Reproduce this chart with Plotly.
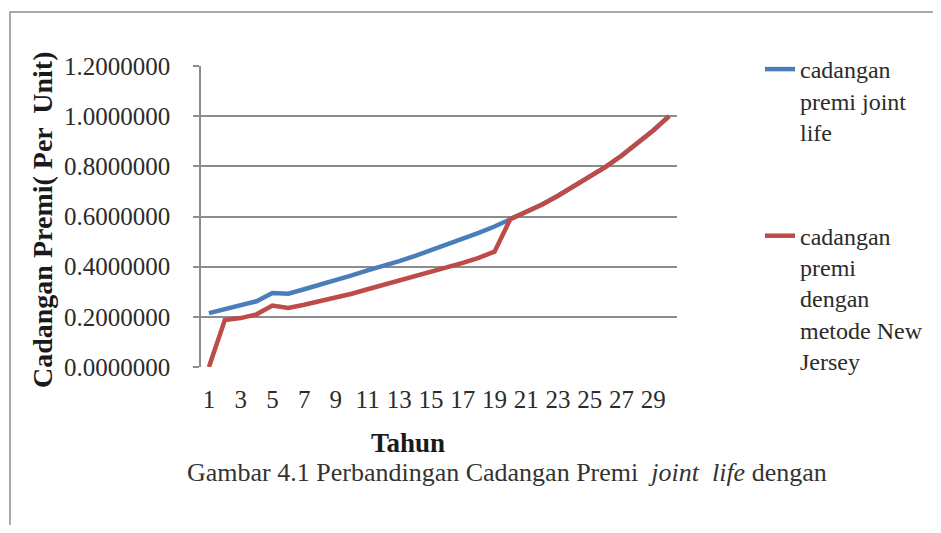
import plotly.graph_objects as go

tahun = list(range(1, 31))
joint_life = [0.215, 0.230, 0.245, 0.262, 0.295, 0.292, 0.310, 0.327, 0.345, 0.365,
              0.385, 0.402, 0.422, 0.443, 0.465, 0.490, 0.512, 0.535, 0.560, 0.590,
              0.617, 0.648, 0.683, 0.720, 0.758, 0.798, 0.842, 0.890, 0.943, 1.000]
new_jersey = [0.000, 0.187, 0.195, 0.210, 0.245, 0.235, 0.248, 0.262, 0.277, 0.292,
              0.310, 0.327, 0.345, 0.360, 0.378, 0.398, 0.415, 0.435, 0.460, 0.590,
              0.617, 0.648, 0.683, 0.720, 0.758, 0.798, 0.842, 0.890, 0.943, 1.000]
x_ticks = list(range(1, 30, 2))
y_ticks = [0.0, 0.2, 0.4, 0.6, 0.8, 1.0, 1.2]
y_tick_labels = [f"{v:.7f}" for v in y_ticks]

# page body has an 8px margin: work in screen pixels, convert to figure pixels
OFF = 8
W, H = 941 - 2 * OFF, 533 - 2 * OFF
L, R, T, B = 201 - OFF, 677 - OFF, 66 - OFF, 367 - OFF
pw, ph = R - L, B - T

def px(xs):
    return (xs - OFF - L) / pw

def py(ys):
    return (B - (ys - OFF)) / ph

SERIF = "Liberation Serif"
TXT = "#2b2b2b"

fig = go.Figure()
fig.add_trace(go.Scatter(
    x=tahun, y=joint_life, mode="lines", legendgroup="a",
    name="cadangan<br>premi joint<br>life",
    line=dict(color="#4A7EBB", width=4.5),
))
fig.add_trace(go.Scatter(
    x=tahun, y=new_jersey, mode="lines", legendgroup="b",
    name="cadangan<br>premi<br>dengan<br>metode New<br>Jersey",
    line=dict(color="#BE4B48", width=4.5),
))

frame_path = "M {x0},{y0} L {x0},{y1} L {x1},{y1}".format(
    x0=px(10), y0=py(560), y1=py(12), x1=px(960))

fig.update_layout(
    width=W, height=H,
    margin=dict(l=L, r=W - R, t=T, b=H - B, autoexpand=False),
    paper_bgcolor="white", plot_bgcolor="white",
    font=dict(family=SERIF, size=22, color=TXT),
    showlegend=True,
    legend=dict(
        x=px(760), y=py(47), xanchor="left", yanchor="top",
        valign="top", tracegroupgap=70, maxheight=600,
        font=dict(family=SERIF, size=24, color=TXT),
        bgcolor="rgba(0,0,0,0)",
    ),
    xaxis=dict(
        range=[0.5, 30.5], tickmode="array", tickvals=x_ticks,
        ticktext=[str(v) for v in x_ticks], automargin=False,
        showgrid=False, zeroline=False, showline=False,
        ticks="", tickfont=dict(family=SERIF, size=25, color=TXT),
        ticklabelstandoff=15,
    ),
    yaxis=dict(
        range=[0, 1.2], tickmode="array", tickvals=y_ticks, ticktext=y_tick_labels,
        automargin=False,
        showgrid=True, gridcolor="#8c8c8c", gridwidth=1.5,
        zeroline=False, showline=True, linecolor="#8c8c8c", linewidth=1.5,
        ticks="outside", ticklen=6, tickcolor="#8c8c8c", tickwidth=1.5,
        tickfont=dict(family=SERIF, size=25, color=TXT),
        ticklabelstandoff=18,
    ),
    shapes=[dict(
        type="path", xref="paper", yref="paper", path=frame_path,
        line=dict(color="#8f8f8f", width=1.5), layer="below",
    )],
    annotations=[
        dict(
            text="<b>Cadangan Premi( Per  Unit)</b>",
            xref="paper", yref="paper", x=px(42), y=py(220), textangle=-90,
            xanchor="center", yanchor="middle", showarrow=False,
            font=dict(family=SERIF, size=28, color="#1a1a1a"),
        ),
        dict(
            text="<b>Tahun</b>",
            xref="paper", yref="paper", x=px(408), y=py(443),
            xanchor="center", yanchor="middle", showarrow=False,
            font=dict(family=SERIF, size=27, color="#1a1a1a"),
        ),
        dict(
            text="Gambar 4.1 Perbandingan Cadangan Premi  <i>joint  life</i> dengan",
            xref="paper", yref="paper", x=px(507), y=py(472),
            xanchor="center", yanchor="middle", showarrow=False,
            font=dict(family=SERIF, size=26, color="#333333"),
        ),
    ],
)

fig.write_html("out.html")
